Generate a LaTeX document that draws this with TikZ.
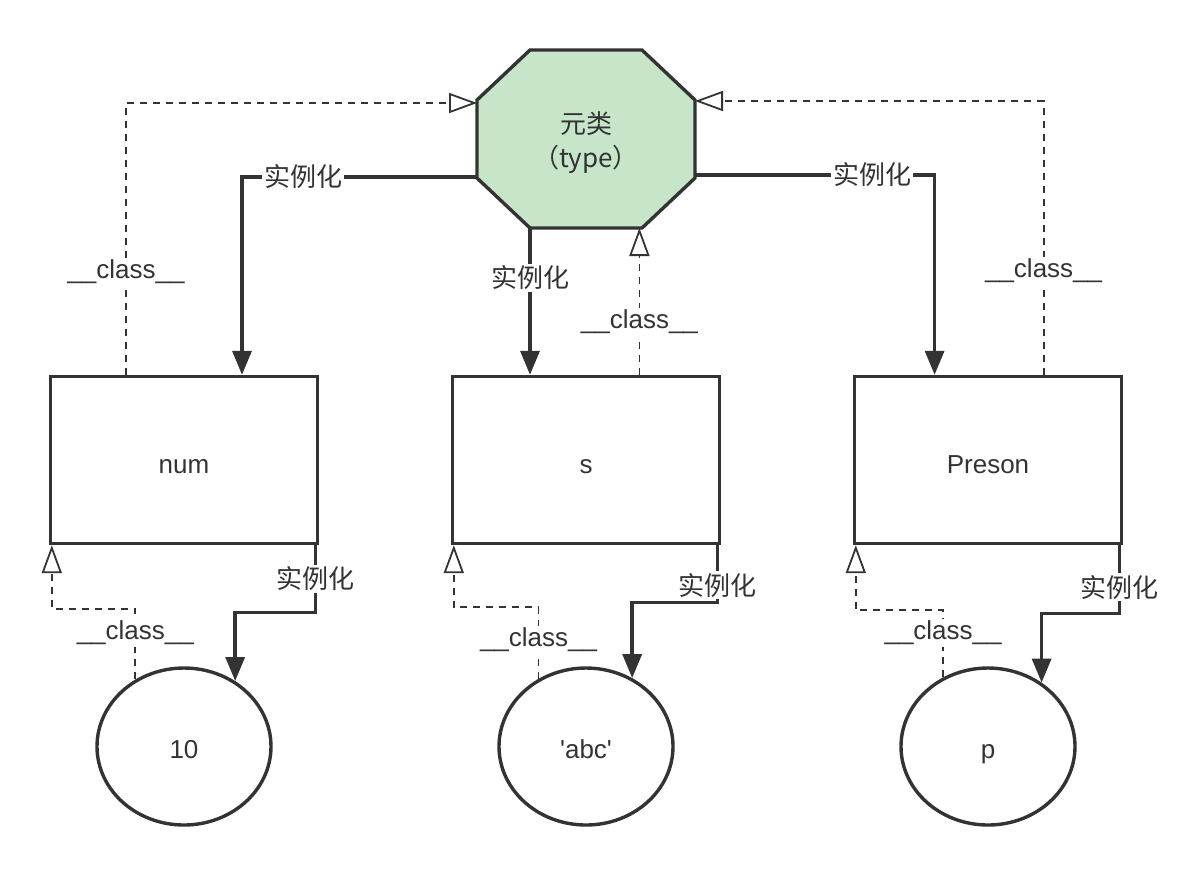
\documentclass[tikz,border=0pt]{standalone}
\usepackage{fontspec}
\setmainfont{Liberation Sans}
\newfontfamily\cjk{Noto Sans CJK SC}
\usepackage{xcolor}
\usepackage{tikz}
\usetikzlibrary{arrows.meta,positioning,shapes.geometric,backgrounds}
\definecolor{ink}{HTML}{333333}
\definecolor{metagreen}{HTML}{C6E5C9}

\begin{document}
\begin{tikzpicture}[
  x=0.5pt, y=-0.5pt,
  every node/.style={text=ink, font=\fontsize{13}{16}\selectfont},
  classbox/.style={draw=ink, line width=1.7pt, minimum width=133.5pt, minimum height=83.5pt, text height=13.8pt, text depth=0pt},
  objnode/.style={ellipse, draw=ink, line width=1.7pt, minimum width=87pt, minimum height=78.5pt, text height=12pt, text depth=0pt},
  inst/.style={ink, line width=1.7pt, -{Triangle[length=12pt, width=9.5pt]}},
  cls/.style={ink, line width=0.9pt, dash pattern=on 3.5pt off 3pt, -{Triangle[open, length=14pt, width=10pt]}},
  lbl/.style={fill=white, inner sep=1pt}
]
\useasboundingbox (0,0) rectangle (1188,875);

\node[minimum width=109pt, minimum height=89pt, inner sep=0pt, outer sep=0pt, align=center, font=\cjk\fontsize{13}{17}\selectfont] (meta) at (586,139) {\rule{0pt}{15pt}元类\\（type）};
\begin{scope}[on background layer]
\draw[ink, fill=metagreen, line width=1.7pt]
  ([xshift=26.5pt]meta.north west) -- ([xshift=-26.5pt]meta.north east)
  -- ([yshift=-25pt]meta.north east) -- ([yshift=25pt]meta.south east)
  -- ([xshift=-26.5pt]meta.south east) -- ([xshift=26.5pt]meta.south west)
  -- ([yshift=25pt]meta.south west) -- ([yshift=-25pt]meta.north west) -- cycle;
\end{scope}

\node[classbox] (num) at (184,460) {num};
\node[classbox] (s) at (586,460) {s};
\node[classbox] (preson) at (988,460) {Preson};

\node[objnode] (ten) at (184,746.5) {10};
\node[objnode] (abc) at (586,746.5) {\textquotesingle abc\textquotesingle};
\node[objnode] (p) at (988,746.5) {p};

\draw[inst] ([yshift=-19pt]meta.west) -| node[lbl, pos=0.37]{\cjk 实例化} ([xshift=29pt]num.north);
\draw[cls] ([xshift=-29pt]num.north) |- node[lbl, pos=0.19]{\_\_class\_\_} ([yshift=18pt]meta.west);
\draw[inst] ([xshift=-28pt]meta.south) -- node[lbl, pos=0.34]{\cjk 实例化} ([xshift=-28pt]s.north);
\draw[cls] ([xshift=26.7pt]s.north) -- node[lbl, pos=0.36]{\_\_class\_\_} ([xshift=26.7pt]meta.south);
\draw[inst] ([yshift=-18pt]meta.east) -| node[lbl, pos=0.37]{\cjk 实例化} ([xshift=-26.7pt]preson.north);
\draw[cls] ([xshift=27.8pt]preson.north) |- node[lbl, pos=0.19]{\_\_class\_\_} ([yshift=19pt]meta.east);

\draw[inst] ([xshift=-2pt]num.south east) -- node[lbl]{\cjk 实例化} ([xshift=-2pt, yshift=-33.5pt]num.south east) -| (ten.52);
\draw[cls] (ten.126) |- node[lbl, pos=0.33]{\_\_class\_\_} ([xshift=1.5pt, yshift=-32pt]num.south west) -- ([xshift=1.5pt]num.south west);
\draw[inst] ([xshift=-2pt]s.south east) -- node[lbl, pos=0.7]{\cjk 实例化} ([xshift=-2pt, yshift=-28.5pt]s.south east) -| (abc.56);
\draw[cls] (abc.125) |- node[lbl, pos=0.27]{\_\_class\_\_} ([xshift=1.5pt, yshift=-31pt]s.south west) -- ([xshift=1.5pt]s.south west);
\draw[inst] ([xshift=-2pt]preson.south east) -- node[lbl, pos=0.62]{\cjk 实例化} ([xshift=-2pt, yshift=-34pt]preson.south east) -| (p.50);
\draw[cls] (p.123) |- node[lbl, pos=0.33]{\_\_class\_\_} ([xshift=1.5pt, yshift=-32.5pt]preson.south west) -- ([xshift=1.5pt]preson.south west);
\end{tikzpicture}
\end{document}
